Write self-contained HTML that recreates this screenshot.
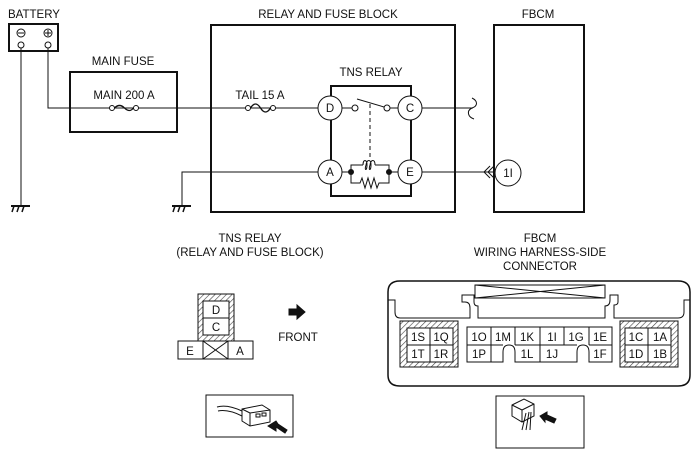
<!DOCTYPE html>
<html><head><meta charset="utf-8"><style>
html,body{margin:0;padding:0;background:#fff;}
svg{display:block;}
text{font-family:"Liberation Sans",sans-serif;font-size:11.5px;fill:#111;}
</style></head><body>
<svg width="700" height="449" viewBox="0 0 700 449" xmlns="http://www.w3.org/2000/svg">
<defs>
<pattern id="h" width="4" height="4" patternUnits="userSpaceOnUse" patternTransform="rotate(45)">
<rect width="4" height="4" fill="#fff"/><line x1="0" y1="0" x2="0" y2="4" stroke="#444" stroke-width="1.2"/>
</pattern>
</defs>
<g fill="none" stroke="#111" stroke-width="1">
<rect x="9" y="24" width="49" height="27" stroke-width="2"/>
<circle cx="21" cy="33" r="4"/><line x1="18" y1="33" x2="24" y2="33"/>
<circle cx="48" cy="33" r="4"/><line x1="45" y1="33" x2="51" y2="33"/><line x1="48" y1="30" x2="48" y2="36"/>
<circle cx="21" cy="45" r="3"/><circle cx="48" cy="45" r="3"/>
<line x1="21" y1="48" x2="21" y2="205"/>
<polyline points="48,48 48,108 318,108"/>
<line x1="11" y1="206" x2="30" y2="206" stroke-width="2"/>
<line x1="14" y1="206" x2="12" y2="212" stroke-width="1.5"/><line x1="19" y1="206" x2="17" y2="212" stroke-width="1.5"/><line x1="24" y1="206" x2="22" y2="212" stroke-width="1.5"/>
<polyline points="318,172 182,172 182,205"/>
<line x1="172" y1="206" x2="191" y2="206" stroke-width="2"/>
<line x1="175" y1="206" x2="173" y2="212" stroke-width="1.5"/><line x1="180" y1="206" x2="178" y2="212" stroke-width="1.5"/><line x1="185" y1="206" x2="183" y2="212" stroke-width="1.5"/>
<rect x="70" y="72" width="107" height="60" stroke-width="2"/>
<rect x="211" y="25" width="244" height="187" stroke-width="2"/>
<rect x="494" y="25" width="90" height="187" stroke-width="2"/>
<circle cx="112" cy="108" r="2.5" fill="#fff"/><circle cx="136" cy="108" r="2.5" fill="#fff"/>
<path d="M114.5,108 q5,-5 10,0 q5,5 9,0" stroke-width="1.3"/>
<circle cx="248" cy="108" r="2.5" fill="#fff"/><circle cx="273" cy="108" r="2.5" fill="#fff"/>
<path d="M250.5,108 q5,-8 10,0 q5,8 10,0" stroke-width="1.3"/>
<rect x="331" y="86" width="80" height="110" stroke-width="2"/>
<circle cx="330" cy="108" r="12" fill="#fff"/><circle cx="410" cy="108" r="12" fill="#fff"/>
<circle cx="330" cy="172" r="12" fill="#fff"/><circle cx="410" cy="172" r="12" fill="#fff"/>
<line x1="342" y1="108" x2="352" y2="108"/><circle cx="355" cy="108" r="3" fill="#fff"/>
<line x1="357" y1="99" x2="384" y2="107"/>
<circle cx="387" cy="108" r="3" fill="#fff"/><line x1="390" y1="108" x2="398" y2="108"/>
<line x1="370" y1="104" x2="370" y2="160" stroke-dasharray="4,3"/>
<line x1="342" y1="172" x2="351" y2="172"/><line x1="389" y1="172" x2="398" y2="172"/>
<polyline points="351,172 351,165 363,165"/>
<path d="M363,165 c0,-6 4,-6 4,0 c0,6 -3,6 -1,0 c1,-6 5,-6 5,0 c0,6 -3,6 -1,0 c1,-6 5,-6 5,0"/>
<polyline points="375,165 389,165 389,172"/>
<polyline points="351,172 351,183 360,183 362,178 365,188 368,178 371,188 374,178 377,188 379,183 389,183 389,172"/>
<circle cx="351" cy="172" r="2.5" fill="#111"/><circle cx="389" cy="172" r="2.5" fill="#111"/>
<line x1="422" y1="108" x2="473" y2="108"/>
<path d="M472,98 c6,3 6,8 0,10 c-6,3 -4,9 2,11"/>
<line x1="422" y1="172" x2="494" y2="172"/>
<polyline points="490,166 484,172 490,178"/><polyline points="494,166 488,172 494,178"/>
<circle cx="508" cy="173" r="13" fill="#fff"/>
<rect x="198" y="294" width="36" height="47" fill="url(#h)"/>
<rect x="203" y="301" width="26" height="17" fill="#fff"/><rect x="203" y="318" width="26" height="17" fill="#fff"/>
<rect x="178" y="341" width="75" height="18" fill="#fff"/>
<line x1="203" y1="341" x2="203" y2="359"/><line x1="228" y1="341" x2="228" y2="359"/>
<line x1="203" y1="341" x2="228" y2="359"/><line x1="228" y1="341" x2="203" y2="359"/>
<polygon points="289,309 297,309 297,305 305,312 297,319 297,315 289,315" fill="#111"/>
<rect x="206" y="395" width="87" height="42"/>
<rect x="496" y="396" width="88" height="52"/>
<path d="M400,281 H678 Q690,281 690,292 V375 Q690,386 678,386 H400 Q388,386 388,375 V292 Q388,281 400,281 Z" stroke-width="1.5"/>
<path d="M388,300 H395 V312 Q395,318 400,318 H470 V308 Q470,302 465,302 H462 V295 H474 V302 Q474,306 478,306 V318 H605 V306 Q610,306 610,300 V295 H618 V302 Q618,305 614,305 V318 H678 Q684,318 684,312 V300 H690" />
<rect x="475" y="285" width="130" height="13" />
<line x1="475" y1="285" x2="605" y2="298"/><line x1="475" y1="298" x2="605" y2="285"/>
<rect x="400" y="321" width="58" height="46" fill="url(#h)"/>
<rect x="407" y="328" width="46" height="34" fill="#fff"/>
<line x1="430" y1="328" x2="430" y2="362"/><line x1="407" y1="345" x2="453" y2="345"/>
<rect x="620" y="321" width="58" height="46" fill="url(#h)"/>
<rect x="625" y="328" width="46" height="34" fill="#fff"/>
<line x1="648" y1="328" x2="648" y2="362"/><line x1="625" y1="345" x2="671" y2="345"/>
<path d="M467,327 H612 V362 H589 V352 Q589,345 583,345 Q577,345 577,352 V362 H515 V352 Q515,345 509,345 Q503,345 503,352 V362 H467 Z"/>
<line x1="467" y1="345" x2="503" y2="345"/><line x1="515" y1="345" x2="577" y2="345"/><line x1="589" y1="345" x2="612" y2="345"/>
<line x1="491" y1="327" x2="491" y2="362"/><line x1="515" y1="327" x2="515" y2="345"/>
<line x1="540" y1="327" x2="540" y2="362"/><line x1="564" y1="327" x2="564" y2="345"/>
<line x1="589" y1="327" x2="589" y2="345"/>
</g>
<g stroke="#111" fill="none" stroke-width="1">
<path d="M217,407 q10,-3 25,4 M218,411 q10,-2 24,5"/>
<polygon points="242,409 262,405 270,410 270,422 250,426 242,421" fill="#fff"/>
<line x1="250" y1="413" x2="250" y2="426"/><line x1="242" y1="409" x2="250" y2="413"/><line x1="250" y1="413" x2="270" y2="410"/>
<rect x="256" y="414" width="4" height="3"/><rect x="262" y="413" width="4" height="3"/>
<polygon points="268,426 276,421 278,424 287,430 285,433 276,427 276,431" fill="#111"/>
<polygon points="512,405 524,399 534,404 534,416 522,422 512,416" fill="#fff"/>
<line x1="522" y1="410" x2="522" y2="422"/><line x1="512" y1="405" x2="522" y2="410"/><line x1="522" y1="410" x2="534" y2="404"/>
<path d="M526,413 l-4,17 M529,412 l-3,18 M531,412 l-1,18"/>
<polygon points="540,416 547,412 547,415 556,419 554,423 545,419 545,422" fill="#111"/>
</g>
<text x="8" y="18">BATTERY</text>
<text x="123" y="65" text-anchor="middle">MAIN FUSE</text>
<text x="124" y="99" text-anchor="middle">MAIN 200 A</text>
<text x="260" y="99" text-anchor="middle">TAIL 15 A</text>
<text x="328" y="18" text-anchor="middle">RELAY AND FUSE BLOCK</text>
<text x="538" y="18" text-anchor="middle">FBCM</text>
<text x="371" y="76" text-anchor="middle">TNS RELAY</text>
<text x="330" y="112" text-anchor="middle" font-size="12">D</text>
<text x="410" y="112" text-anchor="middle" font-size="12">C</text>
<text x="330" y="176" text-anchor="middle" font-size="12">A</text>
<text x="410" y="176" text-anchor="middle" font-size="12">E</text>
<text x="508" y="177" text-anchor="middle">1I</text>
<text x="250" y="242" text-anchor="middle">TNS RELAY</text>
<text x="250" y="256" text-anchor="middle">(RELAY AND FUSE BLOCK)</text>
<text x="540" y="242" text-anchor="middle">FBCM</text>
<text x="540" y="256" text-anchor="middle">WIRING HARNESS-SIDE</text>
<text x="540" y="270" text-anchor="middle">CONNECTOR</text>
<text x="216" y="314" text-anchor="middle">D</text>
<text x="216" y="331" text-anchor="middle">C</text>
<text x="190" y="355" text-anchor="middle">E</text>
<text x="240" y="355" text-anchor="middle">A</text>
<text x="298" y="341" text-anchor="middle">FRONT</text>
<g text-anchor="middle">
<text x="418" y="341">1S</text><text x="441" y="341">1Q</text>
<text x="418" y="358">1T</text><text x="441" y="358">1R</text>
<text x="479" y="341">1O</text><text x="503" y="341">1M</text><text x="527" y="341">1K</text>
<text x="552" y="341">1I</text><text x="576" y="341">1G</text><text x="600" y="341">1E</text>
<text x="479" y="358">1P</text><text x="527" y="358">1L</text><text x="552" y="358">1J</text><text x="600" y="358">1F</text>
<text x="636" y="341">1C</text><text x="660" y="341">1A</text>
<text x="636" y="358">1D</text><text x="660" y="358">1B</text>
</g>
</svg>
</body></html>
